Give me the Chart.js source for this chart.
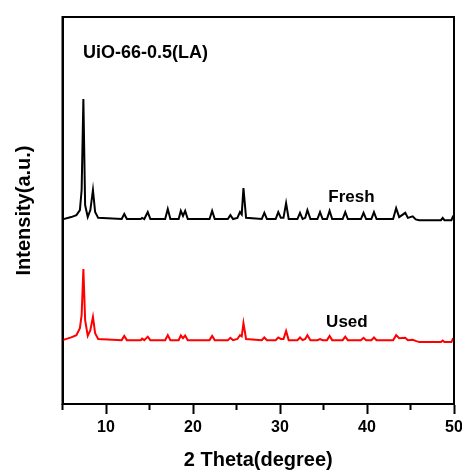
<!DOCTYPE html>
<html>
<head>
<meta charset="utf-8">
<script src="https://cdn.jsdelivr.net/npm/chart.js@4.4.0/dist/chart.umd.min.js"></script>
<style>
  html, body { margin: 0; padding: 0; background: #ffffff; }
  #wrap { width: 462px; height: 470px; }
</style>
</head>
<body>
<div id="wrap"><canvas id="xrdChart"></canvas></div>
<script>
// 2 theta positions shared by both patterns (degree)
const twoTheta = [
  5.0, 6.0, 6.6, 7.0, 7.2, 7.4, 7.6, 7.9, 8.2, 8.5, 8.75, 9.1,
  11.8, 12.1, 12.4, 14.0, 14.15, 14.4, 14.8, 15.1, 16.8, 17.1, 17.4,
  18.35, 18.6, 18.85, 19.1, 19.4, 21.9, 22.2, 22.5, 24.0, 24.3, 24.6,
  25.1, 25.4, 25.6, 25.8, 26.1, 27.9, 28.2, 28.5, 29.5, 29.8, 30.1,
  30.4, 30.7, 31.0, 32.0, 32.3, 32.6, 32.9, 33.15, 33.5, 34.3, 34.6,
  34.9, 35.4, 35.7, 36.0, 37.2, 37.5, 37.8, 39.3, 39.6, 39.9, 40.5,
  40.8, 41.1, 43.0, 43.35, 43.7, 44.4, 44.7, 45.25, 45.6, 46.0, 48.5,
  48.7, 48.9, 49.7, 49.85, 50.0
];

// intensity (a.u., patterns stacked with offset)
const fresh = [
  47.7, 48.3, 48.8, 50.1, 55.3, 78.8, 51.4, 48.3, 50.1, 55.3, 49.6, 48.1,
  47.8, 49.1, 47.8, 47.8, 48.1, 47.8, 49.6, 47.8, 47.8, 50.4, 47.8,
  47.8, 49.9, 48.6, 49.9, 47.8, 47.8, 49.9, 47.8, 47.8, 48.8, 47.8,
  48.1, 49.6, 49.0, 55.8, 48.1, 47.8, 49.4, 47.8, 47.8, 49.6, 48.1,
  48.1, 51.9, 47.8, 47.8, 49.4, 47.8, 48.1, 50.1, 47.8, 47.8, 49.6,
  47.8, 47.8, 49.9, 47.8, 47.8, 49.6, 47.8, 47.8, 49.4, 47.8, 47.8,
  49.6, 47.8, 47.8, 50.6, 48.3, 49.4, 48.1, 48.5, 47.7, 47.5, 47.5,
  48.1, 47.5, 47.5, 48.3, 47.8
];

const used = [
  16.5, 17.2, 17.8, 19.6, 23.0, 34.9, 21.7, 17.6, 19.1, 22.5, 18.3, 16.8,
  16.5, 17.6, 16.5, 16.5, 16.9, 16.5, 17.4, 16.5, 16.5, 17.8, 16.5,
  16.5, 17.7, 17.0, 17.7, 16.5, 16.5, 17.6, 16.5, 16.5, 17.1, 16.5,
  16.8, 17.8, 17.5, 20.9, 16.8, 16.5, 17.2, 16.5, 16.5, 17.2, 16.8,
  16.8, 18.9, 16.5, 16.5, 17.2, 16.5, 16.8, 17.8, 16.5, 16.5, 16.8,
  16.5, 16.5, 17.6, 16.5, 16.5, 17.4, 16.5, 16.5, 17.1, 16.5, 16.5,
  17.2, 16.5, 16.5, 17.8, 17.0, 17.1, 16.5, 16.6, 16.3, 16.0, 16.0,
  16.4, 16.0, 16.0, 16.7, 16.3
];

const majorTicks = [10, 20, 30, 40, 50];
const minorTicks = [5, 15, 25, 35, 45];

// text labels placed in data coordinates
const labels = [
  { text: "UiO-66-0.5(LA)", x: 7.35, y: 90.7, size: 18 },
  { text: "Fresh", x: 35.55, y: 53.5, size: 17 },
  { text: "Used", x: 35.3, y: 21.2, size: 17 },
];

const fontFamily = "'Liberation Sans', Arial, sans-serif";

function toPoints(ys) {
  return twoTheta.map((t, i) => ({ x: t, y: ys[i] }));
}

// frame, minor ticks and in-plot labels
const decorPlugin = {
  id: "decor",
  afterDraw(chart) {
    const { ctx, chartArea, scales } = chart;
    const xs = scales.x;
    const ys = scales.y;
    ctx.save();
    ctx.strokeStyle = "#000000";
    ctx.lineWidth = 2;
    ctx.strokeRect(chartArea.left, chartArea.top,
      chartArea.right - chartArea.left, chartArea.bottom - chartArea.top);

    ctx.beginPath();
    minorTicks.forEach((v) => {
      const px = xs.getPixelForValue(v);
      ctx.moveTo(px, chartArea.bottom);
      ctx.lineTo(px, chartArea.bottom + 6);
    });
    ctx.stroke();

    ctx.fillStyle = "#000000";
    ctx.textAlign = "left";
    ctx.textBaseline = "middle";
    labels.forEach((l) => {
      ctx.font = "bold " + l.size + "px " + fontFamily;
      ctx.fillText(l.text, xs.getPixelForValue(l.x), ys.getPixelForValue(l.y));
    });
    ctx.restore();
  },
};

const ctx = document.getElementById("xrdChart");
new Chart(ctx, {
  type: "line",
  data: {
    datasets: [
      {
        label: "Fresh",
        data: toPoints(fresh),
        borderColor: "#000000",
        borderWidth: 2,
        pointRadius: 0,
        tension: 0,
        fill: false,
      },
      {
        label: "Used",
        data: toPoints(used),
        borderColor: "#ff0000",
        borderWidth: 2,
        pointRadius: 0,
        tension: 0,
        fill: false,
      },
    ],
  },
  options: {
    responsive: true,
    maintainAspectRatio: false,
    animation: false,
    layout: {
      padding: { top: 17, right: 8, left: 0, bottom: 0 },
    },
    plugins: {
      legend: { display: false },
      tooltip: { enabled: false },
    },
    scales: {
      x: {
        type: "linear",
        min: 5,
        max: 50,
        afterBuildTicks: (axis) => {
          axis.ticks = majorTicks.map((v) => ({ value: v }));
        },
        afterFit: (axis) => {
          axis.height = 66;
          axis.paddingLeft = 0;
          axis.paddingRight = 0;
        },
        grid: {
          drawOnChartArea: false,
          drawTicks: true,
          tickLength: 10,
          tickColor: "#000000",
          tickWidth: 2,
        },
        border: { color: "#000000", width: 2 },
        ticks: {
          color: "#000000",
          padding: 4,
          maxRotation: 0,
          font: { family: fontFamily, size: 16, weight: "bold" },
        },
        title: {
          display: true,
          text: "2 Theta(degree)",
          color: "#000000",
          padding: { top: 0, bottom: -2 },
          font: { family: fontFamily, size: 20, weight: "bold" },
        },
      },
      y: {
        min: 0,
        max: 100,
        afterFit: (axis) => {
          axis.width = 62.5;
        },
        grid: { display: false },
        border: { color: "#000000", width: 2 },
        ticks: { display: false },
        title: {
          display: true,
          text: "Intensity(a.u.)",
          color: "#000000",
          padding: { top: 12, bottom: 0 },
          font: { family: fontFamily, size: 20, weight: "bold" },
        },
      },
    },
  },
  plugins: [decorPlugin],
});
</script>
</body>
</html>
